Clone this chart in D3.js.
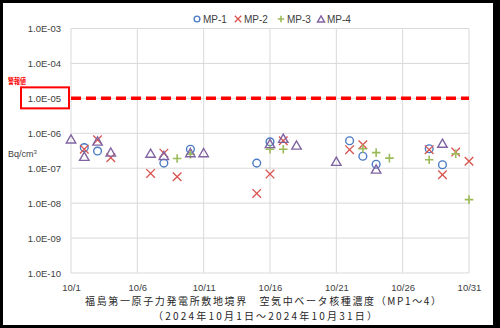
<!DOCTYPE html>
<html><head><meta charset="utf-8">
<script src="https://cdn.jsdelivr.net/npm/d3@7/dist/d3.min.js"></script>
<style>body{margin:0;background:#fff}svg{display:block}</style>
</head><body><svg id="c" width="500" height="328"></svg>
<script>
const days = [1,2,3,4,5,6,7,8,9,10,11,12,13,14,15,16,17,18,19,20,21,22,23,24,25,26,27,28,29,30,31];
const mp1 = [null,3.9e-7,3.1e-7,null,null,null,null,1.4e-7,null,3.5e-7,null,null,null,null,1.4e-7,5.7e-7,null,null,null,null,null,6.1e-7,2.2e-7,1.3e-7,null,null,null,3.6e-7,1.26e-7,null,null];
const mp2 = [null,3.5e-7,6.5e-7,2.0e-7,null,null,7.1e-8,2.7e-7,5.7e-8,null,null,null,null,null,1.9e-8,6.8e-8,6.1e-7,null,null,null,null,3.4e-7,4.7e-7,null,null,null,null,3.4e-7,6.5e-8,2.9e-7,1.58e-7];
const mp3 = [null,null,null,null,null,null,null,null,1.9e-7,2.5e-7,null,null,null,null,null,3.5e-7,3.5e-7,null,null,null,null,null,3.6e-7,2.8e-7,1.95e-7,null,null,1.75e-7,null,2.6e-7,1.26e-8];
const mp4 = [6.9e-7,2.2e-7,6.0e-7,2.9e-7,null,null,2.7e-7,2.3e-7,null,2.8e-7,2.8e-7,null,null,null,null,5.1e-7,7.2e-7,4.6e-7,null,null,1.58e-7,null,null,9.5e-8,null,null,null,null,5.2e-7,null,null];
const seriesNames = ["MP-1","MP-2","MP-3","MP-4"];
const xTickDays = [1,6,11,16,21,26,31];
const xTickLabels = ["10/1","10/6","10/11","10/16","10/21","10/26","10/31"];
const yTicks = [1e-3,1e-4,1e-5,1e-6,1e-7,1e-8,1e-9,1e-10];
const yTickLabels = ["1.0E-03","1.0E-04","1.0E-05","1.0E-06","1.0E-07","1.0E-08","1.0E-09","1.0E-10"];
const alarmValue = 1e-5;
const alarmLabel = "警報値";
const unitLabel = "Bq/cm";
const titleLine1 = "福島第一原子力発電所敷地境界　空気中ベータ核種濃度（MP1～4）";
const titleLine2 = "（2024年10月1日～2024年10月31日）";

const svg = d3.select("#c");
const W = 500, H = 328;
const colors = ["#4a7bc4","#d9534f","#9bbb59","#8064a2"];
const numFont = "'Liberation Sans', Arial, sans-serif";
const jpFont = "'Noto Sans CJK JP', sans-serif";

// frame
svg.append("rect").attr("x",0).attr("y",0).attr("width",W).attr("height",H).attr("fill","#000");
svg.append("rect").attr("x",3).attr("y",3).attr("width",490).attr("height",322).attr("fill","#fff");

const x = d3.scaleLinear().domain([1,31]).range([71,469]);
const y = d3.scaleLog().domain([1e-10,1e-3]).range([273,28.5]);

// gridlines
const g = svg.append("g");
g.selectAll("line.h").data(yTicks).join("line")
  .attr("x1",x(1)).attr("x2",x(31)).attr("y1",d=>y(d)).attr("y2",d=>y(d))
  .attr("stroke","#d9d9d9").attr("stroke-width",1);
g.selectAll("line.v").data(xTickDays).join("line")
  .attr("y1",y(1e-3)).attr("y2",y(1e-10)).attr("x1",d=>x(d)).attr("x2",d=>x(d))
  .attr("stroke","#d9d9d9").attr("stroke-width",1);

// axes labels via d3 axes
const xAxis = d3.axisBottom(x).tickValues(xTickDays).tickFormat((d,i)=>xTickLabels[i]).tickSize(0).tickPadding(11);
const xg = svg.append("g").attr("transform",`translate(0,${y(1e-10)})`).call(xAxis);
xg.select(".domain").remove();
xg.selectAll("text").attr("font-family",numFont).attr("font-size",9.5).attr("fill","#404040");

const yAxis = d3.axisLeft(y).tickValues(yTicks).tickFormat((d,i)=>yTickLabels[i]).tickSize(0).tickPadding(10);
const yg = svg.append("g").attr("transform",`translate(${x(1)},0)`).call(yAxis);
yg.select(".domain").remove();
yg.selectAll("text").attr("font-family",numFont).attr("font-size",9.5).attr("fill","#404040");

// alarm box and label
const ay = y(alarmValue);
svg.append("rect").attr("x",21).attr("y",ay-11).attr("width",48).attr("height",21)
  .attr("fill","none").attr("stroke","#ff0000").attr("stroke-width",2);
svg.append("text").attr("x",8).attr("y",ay-14).text(alarmLabel)
  .attr("font-family",jpFont).attr("font-size",7.5).attr("font-weight","bold").attr("fill","#ff0000")
  .attr("textLength",18).attr("lengthAdjust","spacingAndGlyphs");
svg.append("line").attr("x1",x(1)).attr("x2",x(31)).attr("y1",ay).attr("y2",ay)
  .attr("stroke","#ff0000").attr("stroke-width",3.5).attr("stroke-dasharray","10,5");

// unit
const ut = svg.append("text").attr("x",8).attr("y",157).attr("font-family",numFont).attr("font-size",9).attr("fill","#404040").text(unitLabel);
ut.append("tspan").attr("dy",-3).attr("font-size",6).text("3");

// markers
function drawMarker(sel, k, cx, cy, s) {
  const c = colors[k];
  if (k===0) {
    sel.append("circle").attr("cx",cx).attr("cy",cy).attr("r",s*0.9).attr("fill","none").attr("stroke",c).attr("stroke-width",1.4);
  } else if (k===1) {
    sel.append("path").attr("d",`M${cx-s},${cy-s}L${cx+s},${cy+s}M${cx-s},${cy+s}L${cx+s},${cy-s}`).attr("stroke",c).attr("stroke-width",1.3).attr("fill","none");
  } else if (k===2) {
    sel.append("path").attr("d",`M${cx-s},${cy}L${cx+s},${cy}M${cx},${cy-s}L${cx},${cy+s}`).attr("stroke",c).attr("stroke-width",1.6).attr("fill","none");
  } else {
    const h = s*0.95, w = s*1.1;
    sel.append("path").attr("d",`M${cx},${cy-h}L${cx+w},${cy+h}L${cx-w},${cy+h}Z`).attr("stroke",c).attr("stroke-width",1.4).attr("fill","none");
  }
}
const allSeries = [mp1, mp2, mp3, mp4];
const mg = svg.append("g");
allSeries.forEach((vals,k)=>{
  vals.forEach((v,i)=>{ if (v!=null) drawMarker(mg, k, x(days[i]), y(v), 4.3); });
});

// legend
const legX = [197, 238, 281, 321];
const lg = svg.append("g");
seriesNames.forEach((n,k)=>{
  drawMarker(lg, k, legX[k], 19, 3.2);
  lg.append("text").attr("x",legX[k]+6).attr("y",19).attr("dy","0.35em")
    .attr("font-family",numFont).attr("font-size",10).attr("fill","#404040").text(n);
});

// titles
svg.append("text").attr("x",263).attr("y",305).attr("text-anchor","middle")
  .attr("font-family",jpFont).attr("font-size",10).attr("fill","#262626")
  .attr("textLength",356).attr("lengthAdjust","spacing").text(titleLine1);
svg.append("text").attr("x",265).attr("y",319.6).attr("text-anchor","middle")
  .attr("font-family",jpFont).attr("font-size",10).attr("fill","#262626")
  .attr("textLength",224).attr("lengthAdjust","spacing").text(titleLine2);
</script></body></html>
